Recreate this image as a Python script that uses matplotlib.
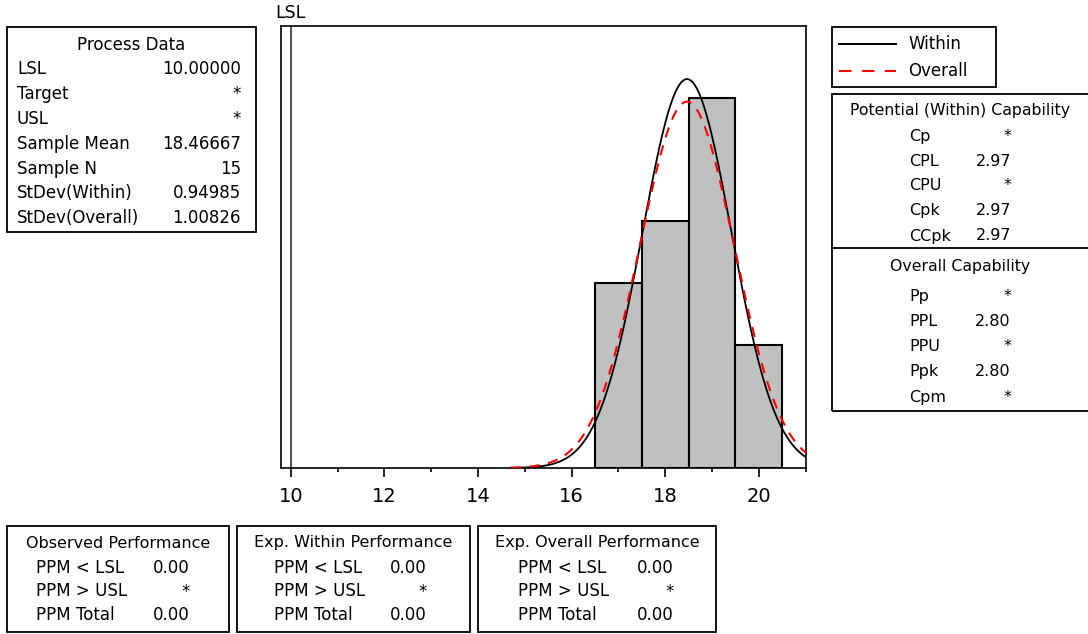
import numpy as np
import matplotlib.pyplot as plt
from matplotlib.patches import Rectangle

W, H = 1088, 634

# process data
lsl = 10.0
sample_mean = 18.46667
sample_n = 15
sd_within = 0.94985
sd_overall = 1.00826

# histogram (bin centres and counts)
bin_centers = [17, 18, 19, 20]
bin_counts = [3, 4, 6, 2]
bin_width = 1.0

process_labels = ["LSL", "Target", "USL", "Sample Mean", "Sample N",
                  "StDev(Within)", "StDev(Overall)"]
process_values = ["10.00000", "*", "*", "18.46667", "15", "0.94985", "1.00826"]

within_labels = ["Cp", "CPL", "CPU", "Cpk", "CCpk"]
within_values = ["*", "2.97", "*", "2.97", "2.97"]
overall_labels = ["Pp", "PPL", "PPU", "Ppk", "Cpm"]
overall_values = ["*", "2.80", "*", "2.80", "*"]

perf_titles = ["Observed Performance", "Exp. Within Performance",
               "Exp. Overall Performance"]
perf_labels = ["PPM < LSL", "PPM > USL", "PPM Total"]
perf_values = [["0.00", "*", "0.00"],
               ["0.00", "*", "0.00"],
               ["0.00", "*", "0.00"]]

fig = plt.figure(figsize=(W / 100, H / 100), dpi=100)


def fx(px):
    return px / W


def fy(py):
    return 1 - py / H


def box(x0, y0, x1, y1):
    fig.patches.append(Rectangle((fx(x0), fy(y1)), (x1 - x0) / W, (y1 - y0) / H,
                                 transform=fig.transFigure, fill=False,
                                 lw=1.3, ec="black"))


def txt(px, py, s, ha="left", size=11.5):
    fig.text(fx(px), fy(py), s, ha=ha, va="center", fontsize=size)


# main histogram axes
ax = fig.add_axes([fx(281), fy(468), (806 - 281) / W, (468 - 26) / H])
ax.bar(bin_centers, bin_counts, width=bin_width, color="#c0c0c0",
       edgecolor="black", lw=1.5, zorder=2)

xs = np.linspace(14.7, 21.1, 500)
scale = sample_n * bin_width
pdf_w = scale * np.exp(-0.5 * ((xs - sample_mean) / sd_within) ** 2) / (sd_within * np.sqrt(2 * np.pi))
pdf_o = scale * np.exp(-0.5 * ((xs - sample_mean) / sd_overall) ** 2) / (sd_overall * np.sqrt(2 * np.pi))
ax.plot(xs, pdf_w, color="black", lw=1.3, zorder=3)
ax.plot(xs, pdf_o, color="red", lw=1.5, dashes=(5, 4), zorder=4)
ax.axvline(lsl, color="#555555", lw=1.5, zorder=1)

ax.set_xlim(9.79, 21.01)
ax.set_ylim(0, 7.16)
ax.set_yticks([])
ax.set_xticks([10, 12, 14, 16, 18, 20])
ax.set_xticks([11, 13, 15, 17, 19, 21], minor=True)
ax.tick_params(axis="x", which="major", length=6.5, width=1.2, labelsize=14, pad=7)
ax.tick_params(axis="x", which="minor", length=3, width=1.2)
for sp in ax.spines.values():
    sp.set_linewidth(1.2)
ax.text(lsl, 1.01, "LSL", transform=ax.get_xaxis_transform(), ha="center",
        va="bottom", fontsize=12.5)

# process data box
box(7, 27, 256, 232)
txt(131, 45, "Process Data", ha="center", size=12)
for i, (lab, val) in enumerate(zip(process_labels, process_values)):
    y = 69 + i * 24.9
    txt(17, y, lab, size=12)
    txt(241, y, val, ha="right", size=12)

# legend box
box(832, 27, 996, 87)
fig.lines.append(plt.Line2D([fx(839), fx(896)], [fy(44), fy(44)],
                            transform=fig.transFigure, color="black", lw=1.4))
fig.lines.append(plt.Line2D([fx(839), fx(896)], [fy(71), fy(71)],
                            transform=fig.transFigure, color="red", lw=1.5,
                            dashes=(6, 5)))
txt(908, 44, "Within", size=12)
txt(908, 71, "Overall", size=12)

# capability box
box(832, 94, 1092, 411)
fig.lines.append(plt.Line2D([fx(832), fx(1088)], [fy(248), fy(248)],
                            transform=fig.transFigure, color="black", lw=1.3))
txt(960, 111, "Potential (Within) Capability", ha="center", size=11.3)
for i, (lab, val) in enumerate(zip(within_labels, within_values)):
    y = 136 + i * 25
    txt(909, y, lab, size=11.5)
    txt(1011, y, val, ha="right", size=11.5)
txt(960, 266, "Overall Capability", ha="center", size=11.3)
for i, (lab, val) in enumerate(zip(overall_labels, overall_values)):
    y = 296 + i * 25.3
    txt(909, y, lab, size=11.5)
    txt(1011, y, val, ha="right", size=11.5)

# performance boxes
perf_boxes = [(7, 229), (237, 470), (478, 716)]
label_left = [36, 274, 518]
value_right = [190, 427, 674]
for k, (x0, x1) in enumerate(perf_boxes):
    box(x0, 526, x1, 632)
    txt((x0 + x1) / 2, 543, perf_titles[k], ha="center", size=11.5)
    for i, lab in enumerate(perf_labels):
        y = 568 + i * 23.5
        txt(label_left[k], y, lab, size=12)
        txt(value_right[k], y, perf_values[k][i], ha="right", size=12)

fig.savefig("out.png", dpi=100)
